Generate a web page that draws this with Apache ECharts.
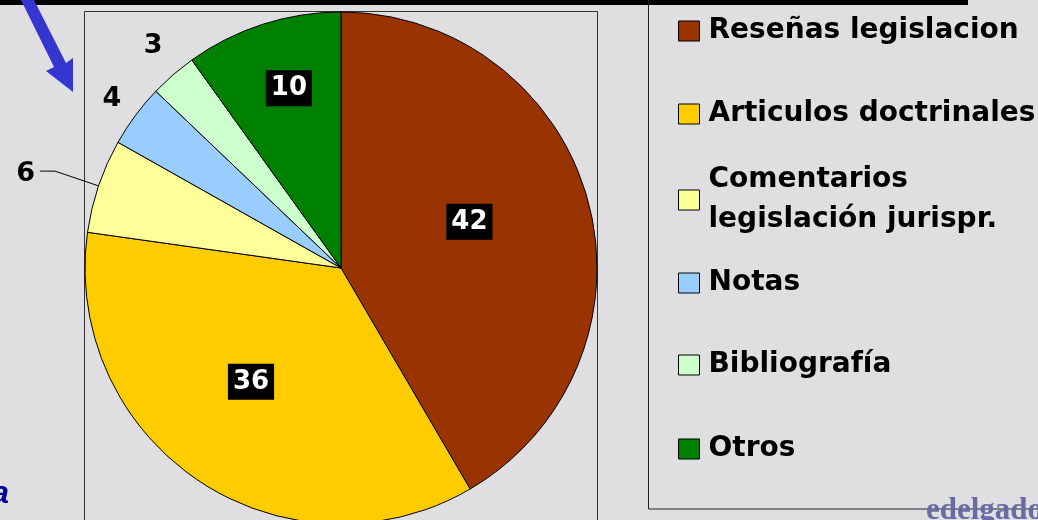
<!DOCTYPE html>
<html style="height: 100%">
<head>
    <title>Tipos de documentos</title>
    <meta charset="utf-8">
</head>
<body style="height: 100%; margin: 0">
<div id="container" style="height:520px;width:1038px"></div>
<script src="https://cdn.jsdelivr.net/npm/echarts@6/dist/echarts.min.js"></script>
<script type="text/javascript">
    var names = ['Reseñas legislacion', 'Articulos doctrinales', 'Comentarios legislación jurispr.', 'Notas', 'Bibliografía', 'Otros'];
    var values = [42, 36, 6, 4, 3, 10];
    var colors = ['#993300', '#ffcc00', '#ffff99', '#99ccff', '#ccffcc', '#008000'];
    // legend rows (center y of each swatch)
    var legendRows = [30, 113, 199, 282, 364, 448];

    var dom = document.getElementById("container");
    var myChart = echarts.init(dom);

    // inside labels: black box, white text; small slices outside
    var insideLabel = {
        show: true, position: 'inside', formatter: '{c}', color: '#fff', backgroundColor: '#000',
        fontFamily: 'DejaVu Sans', fontWeight: 'bold', fontSize: 26, padding: [6, 5, 4, 5]
    };
    var outsideLabel = {
        show: true, position: 'outside', formatter: '{c}', color: '#000',
        fontFamily: 'DejaVu Sans', fontWeight: 'bold', fontSize: 27
    };
    var nudge = [{dx: 2, dy: -12}, {dx: -17, dy: 5}, {dy: 3}, {dx: 11, dy: -2}, {dx: 22, dy: 3}, {dx: -12, dy: -55}];
    var lineLen = [[10, 0], [10, 0], [46, 15], [25, 0], [42, 0], [10, 0]];

    var data = [];
    for (var i = 0; i < names.length; i++) {
        var inside = values[i] >= 10;
        data.push({
            name: names[i],
            value: values[i],
            itemStyle: {color: colors[i]},
            label: inside ? insideLabel : outsideLabel,
            labelLine: {show: i === 2, length: lineLen[i][0], length2: lineLen[i][1], lineStyle: {color: '#000', width: 1}}
        });
    }

    var legends = [];
    for (var j = 0; j < names.length; j++) {
        var twoLines = j === 2;
        legends.push({
            data: [names[j]],
            orient: 'vertical',
            left: 678,
            top: twoLines ? legendRows[j] - 60 : legendRows[j] - 16,
            padding: 0,
            icon: 'rect',
            itemWidth: 21,
            itemHeight: 20,
            selectedMode: false,
            itemStyle: {borderColor: '#000', borderWidth: 1},
            formatter: twoLines ? function () { return 'Comentarios\nlegislación jurispr.'; } : '{name}',
            textStyle: {
                color: '#000', fontFamily: 'DejaVu Sans', fontWeight: 'bold', fontSize: 28,
                lineHeight: twoLines ? 40 : 32, padding: twoLines ? [42, 0, 0, 4] : [2, 0, 0, 4]
            }
        });
    }

    myChart.setOption({
        backgroundColor: '#dfdfe2',
        animation: false,
        legend: legends,
        graphic: [
            {type: 'rect', shape: {x: 0, y: 0, width: 968, height: 5}, style: {fill: '#000'}},
            {type: 'rect', shape: {x: 84.5, y: 11.5, width: 513, height: 540}, style: {fill: 'none', stroke: '#333', lineWidth: 1}},
            {type: 'rect', shape: {x: 648.5, y: -10, width: 500, height: 519}, style: {fill: 'none', stroke: '#222', lineWidth: 1}},
            {type: 'polygon', shape: {points: [[21, 0], [34, 0], [66, 63], [73, 58], [73, 92], [46, 71], [54, 67]]}, style: {fill: '#3535d0'}},
            {type: 'text', x: 9, y: 510, style: {text: 'a', fill: '#000099', font: 'italic bold 32px "Liberation Sans"', textAlign: 'right', textVerticalAlign: 'bottom'}},
            {type: 'text', x: 926, y: 526, style: {text: 'edelgado', fill: '#6a6aa5', font: 'bold 31px "Liberation Serif"', textAlign: 'left', textVerticalAlign: 'bottom'}}
        ],
        series: [
            {
                type: 'pie',
                center: [341, 268],
                radius: 256,
                startAngle: 90,
                clockwise: true,
                avoidLabelOverlap: false,
                itemStyle: {borderColor: '#000', borderWidth: 1},
                emphasis: {disabled: true},
                labelLayout: function (params) {
                    return nudge[params.dataIndex];
                },
                data: data
            }
        ]
    });
</script>
</body>
</html>
